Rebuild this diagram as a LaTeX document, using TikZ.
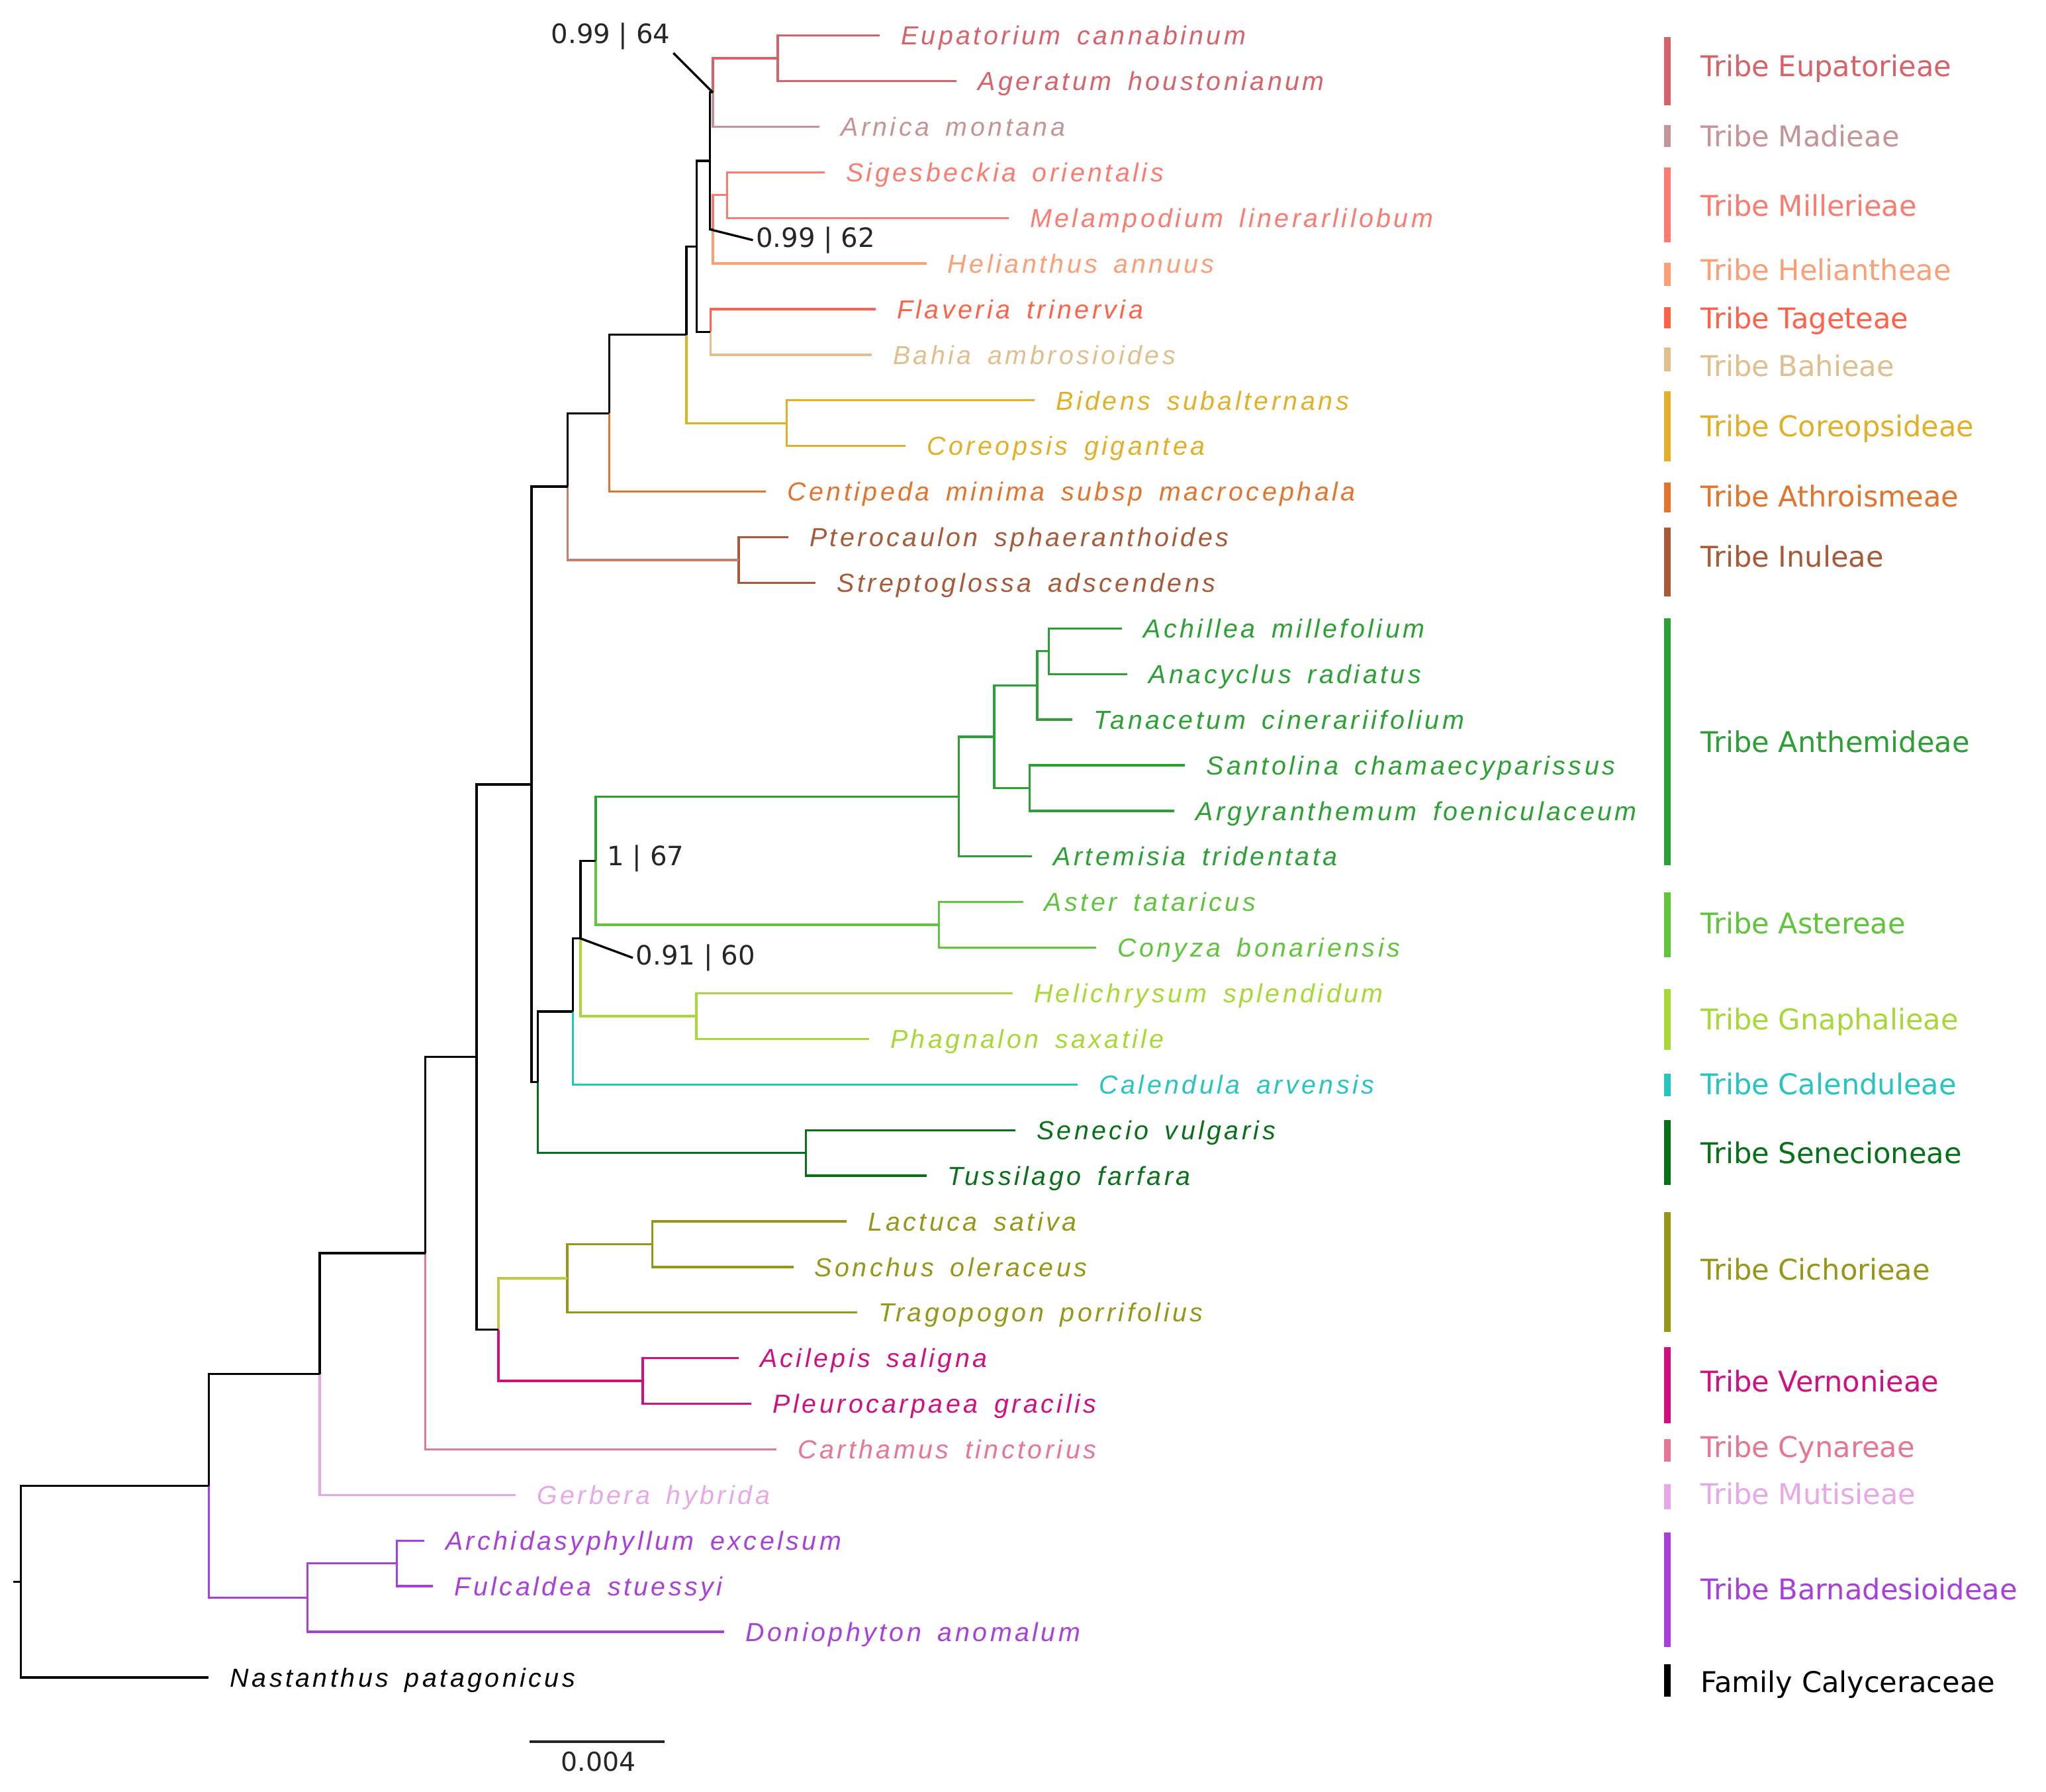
\documentclass[tikz,border=0pt]{standalone}
\usepackage{fontspec}
\setmainfont{DejaVu Sans}
\newfontfamily\taxfont[LetterSpace=11.3,WordSpace=1.6]{Liberation Sans}
\usetikzlibrary{positioning,calc}

\definecolor{eup}{RGB}{214,98,106}
\definecolor{mad}{RGB}{196,148,152}
\definecolor{mil}{RGB}{250,124,112}
\definecolor{hel}{RGB}{252,158,118}
\definecolor{tag}{RGB}{255,98,72}
\definecolor{bah}{RGB}{224,190,142}
\definecolor{cor}{RGB}{226,176,40}
\definecolor{ath}{RGB}{226,116,46}
\definecolor{inu}{RGB}{168,90,56}
\definecolor{ant}{RGB}{44,160,52}
\definecolor{ast}{RGB}{96,196,60}
\definecolor{gna}{RGB}{168,216,56}
\definecolor{cal}{RGB}{40,196,192}
\definecolor{sen}{RGB}{8,112,24}
\definecolor{cic}{RGB}{150,150,24}
\definecolor{cicl}{RGB}{196,200,70}
\definecolor{ver}{RGB}{206,16,128}
\definecolor{cyn}{RGB}{230,118,148}
\definecolor{mut}{RGB}{232,168,232}
\definecolor{bar}{RGB}{168,64,218}

% clade: name, x, first child, its colour, second child, its colour
\newcommand\clade[6]{%
  \path ($(#3)!.5!(#5)$) coordinate (#1m);
  \coordinate (#1) at (#2,0 |- #1m);
  \draw[br,#4] (#1) |- (#3);
  \draw[br,#6] (#1) |- (#5);
}

\begin{document}
\begin{tikzpicture}[x=0.5pt,y=-0.5pt,
    br/.style={line width=0.85pt},
    tax/.style={font={\fontsize{10}{12}\selectfont\taxfont\itshape},inner sep=0pt,text height=7.2pt,text depth=0pt},
    supp/.style={font={\fontsize{10.2}{12}\selectfont},text=black!85,inner sep=1pt},
    tbar/.style={line width=2.6pt},
    tlab/.style={font={\fontsize{10.95}{13}\selectfont},anchor=west,inner sep=0pt,text height=8pt,text depth=0pt}]
\useasboundingbox (0,0) rectangle (1568,1373);

% leaves
\foreach \n/\r/\x/\c/\t in {
  eupC/0/674/eup/Eupatorium cannabinum,
  ageH/1/733/eup/Ageratum houstonianum,
  arnM/2/628/mad/Arnica montana,
  sigO/3/632/mil/Sigesbeckia orientalis,
  melL/4/773/mil/Melampodium linerarlilobum,
  helA/5/710/hel/Helianthus annuus,
  flaT/6/671/tag/Flaveria trinervia,
  bahA/7/668/bah/Bahia ambrosioides,
  bidS/8/793/cor/Bidens subalternans,
  corG/9/694/cor/Coreopsis gigantea,
  cenM/10/587/ath/Centipeda minima subsp macrocephala,
  pteS/11/604/inu/Pterocaulon sphaeranthoides,
  strA/12/625/inu/Streptoglossa adscendens,
  achM/13/860/ant/Achillea millefolium,
  anaR/14/864/ant/Anacyclus radiatus,
  tanC/15/822/ant/Tanacetum cinerariifolium,
  sanC/16/908/ant/Santolina chamaecyparissus,
  argF/17/900/ant/Argyranthemum foeniculaceum,
  artT/18/791/ant/Artemisia tridentata,
  astT/19/784/ast/Aster tataricus,
  conB/20/840/ast/Conyza bonariensis,
  heliS/21/776/gna/Helichrysum splendidum,
  phaS/22/666/gna/Phagnalon saxatile,
  calA/23/826/cal/Calendula arvensis,
  senV/24/778/sen/Senecio vulgaris,
  tusF/25/710/sen/Tussilago farfara,
  lacS/26/649/cic/Lactuca sativa,
  sonO/27/608/cic/Sonchus oleraceus,
  traP/28/657/cic/Tragopogon porrifolius,
  aciS/29/566/ver/Acilepis saligna,
  pleG/30/576/ver/Pleurocarpaea gracilis,
  carT/31/595/cyn/Carthamus tinctorius,
  gerH/32/395/mut/Gerbera hybrida,
  arcE/33/325/bar/Archidasyphyllum excelsum,
  fulS/34/332/bar/Fulcaldea stuessyi,
  donA/35/555/bar/Doniophyton anomalum,
  nasP/36/160/black/Nastanthus patagonicus}
{
  \coordinate (\n) at (\x,{27.2+34.95*\r});
  \node[tax,text=\c,right=8pt of \n] (\n-lab) {\t};
}

% clades
\clade{eupN}{596}{eupC}{eup}{ageH}{eup}
\clade{n1}{546.3}{eupN}{eup}{arnM}{mad}
\clade{milN}{557.2}{sigO}{mil}{melL}{mil}
\clade{n3}{546.3}{milN}{mil}{helA}{hel}
\clade{n2}{544}{n1}{black}{n3}{black}
\clade{n5}{544.5}{flaT}{tag}{bahA}{bah}
\clade{n4}{533.8}{n2}{black}{n5}{black}
\clade{corN}{602.9}{bidS}{cor}{corG}{cor}
\clade{n6}{526}{n4}{black}{corN}{cor}
\clade{n7}{466.8}{n6}{black}{cenM}{ath}
\clade{inuN}{566.2}{pteS}{inu}{strA}{inu}
\clade{n8}{435}{n7}{black}{inuN}{inu!75}
\clade{achN}{803.7}{achM}{ant}{anaR}{ant}
\clade{ataN}{794.9}{achN}{ant}{tanC}{ant}
\clade{sacN}{789}{sanC}{ant}{argF}{ant}
\clade{subN}{761.9}{ataN}{ant}{sacN}{ant}
\clade{antN}{734.8}{subN}{ant}{artT}{ant}
\clade{astN}{719.6}{astT}{ast}{conB}{ast}
\clade{n9}{456.6}{antN}{ant}{astN}{ast}
\clade{gnaN}{533.6}{heliS}{gna}{phaS}{gna}
\clade{n10}{444.8}{n9}{black}{gnaN}{gna}
\clade{n11}{438.9}{n10}{black}{calA}{cal}
\clade{senN}{617.6}{senV}{sen}{tusF}{sen}
\clade{n12}{412.3}{n11}{black}{senN}{sen}
\clade{n13}{407.4}{n8}{black}{n12}{black}
\clade{lsN}{499.8}{lacS}{cic}{sonO}{cic}
\clade{cicN}{434.8}{lsN}{cic}{traP}{cic}
\clade{verN}{492.5}{aciS}{ver}{pleG}{ver}
\clade{n14}{382}{cicN}{cicl}{verN}{ver}
\clade{n15}{365.2}{n13}{black}{n14}{black}
\clade{n16}{326}{n15}{black}{carT}{cyn}
\clade{n17}{245}{n16}{black}{gerH}{mut}
\clade{arfN}{304}{arcE}{bar}{fulS}{bar}
\clade{barN}{235.6}{arfN}{bar}{donA}{bar}
\clade{n18}{160}{n17}{black}{barN}{bar}
\clade{root}{16}{n18}{black}{nasP}{black}
\coordinate (stub) at (10,0 |- root);
\draw[br] (stub) -- (root);

% support values
\node[supp] (s64) at (468,28) {0.99 | 64};
\draw[br] (s64.south east) -- (n1);
\node[supp,anchor=west] (s62) at (577,184) {0.99 | 62};
\draw[br] (n2 |- n3) -- (s62.west);
\node[supp,anchor=west] (s67) at (463,658) {1 | 67};
\node[supp,anchor=west] (s60) at (485,734) {0.91 | 60};
\draw[br] (n10) -- (s60.west);

% tribes
\foreach \n/\a/\b/\m/\c/\t in {
  eup/28.3/80.6/50.7/eup/Tribe Eupatorieae,
  mad/96/112.5/104.5/mad/Tribe Madieae,
  mil/128.5/185.4/157.4/mil/Tribe Millerieae,
  hel/201.4/219.2/206.6/hel/Tribe Heliantheae,
  tag/235.2/251.5/243.8/tag/Tribe Tageteae,
  bah/266.3/284.7/280.4/bah/Tribe Bahieae,
  cor/299.8/353.6/326.6/cor/Tribe Coreopsideae,
  ath/369.9/392.7/380.4/ath/Tribe Athroismeae,
  inu/404.4/457.2/426.5/inu/Tribe Inuleae,
  ant/474/662.8/568.7/ant/Tribe Anthemideae,
  ast/683.8/733.3/707.7/ast/Tribe Astereae,
  gna/758/804.7/781.3/gna/Tribe Gnaphalieae,
  cal/823/840/830.8/cal/Tribe Calenduleae,
  sen/858.5/908/883.3/sen/Tribe Senecioneae,
  cic/929/1020.4/973/cic/Tribe Cichorieae,
  ver/1032.5/1090.8/1058.3/ver/Tribe Vernonieae,
  cyn/1103/1120/1108.7/cyn/Tribe Cynareae,
  mut/1137.2/1156.8/1145/mut/Tribe Mutisieae,
  bar/1174.4/1262/1217.7/bar/Tribe Barnadesioideae,
  caly/1275.5/1300/1289/black/Family Calyceraceae}
{
  \coordinate (\n-top) at (1278,\a);
  \coordinate (\n-bot) at (1278,\b);
  \draw[tbar,\c] (\n-top) -- (\n-bot);
  \node[tlab,text=\c] (\n-tribe) at (1303,\m) {\t};
}

% scale bar
\coordinate (sbL) at (406,1334.8);
\coordinate (sbR) at (509.5,1334.8);
\draw[line width=1pt,black!85] (sbL) -- (sbR);
\node[font={\fontsize{10}{12}\selectfont},text=black!85] (sbLab) at (458.7,1350) {0.004};
\end{tikzpicture}
\end{document}
